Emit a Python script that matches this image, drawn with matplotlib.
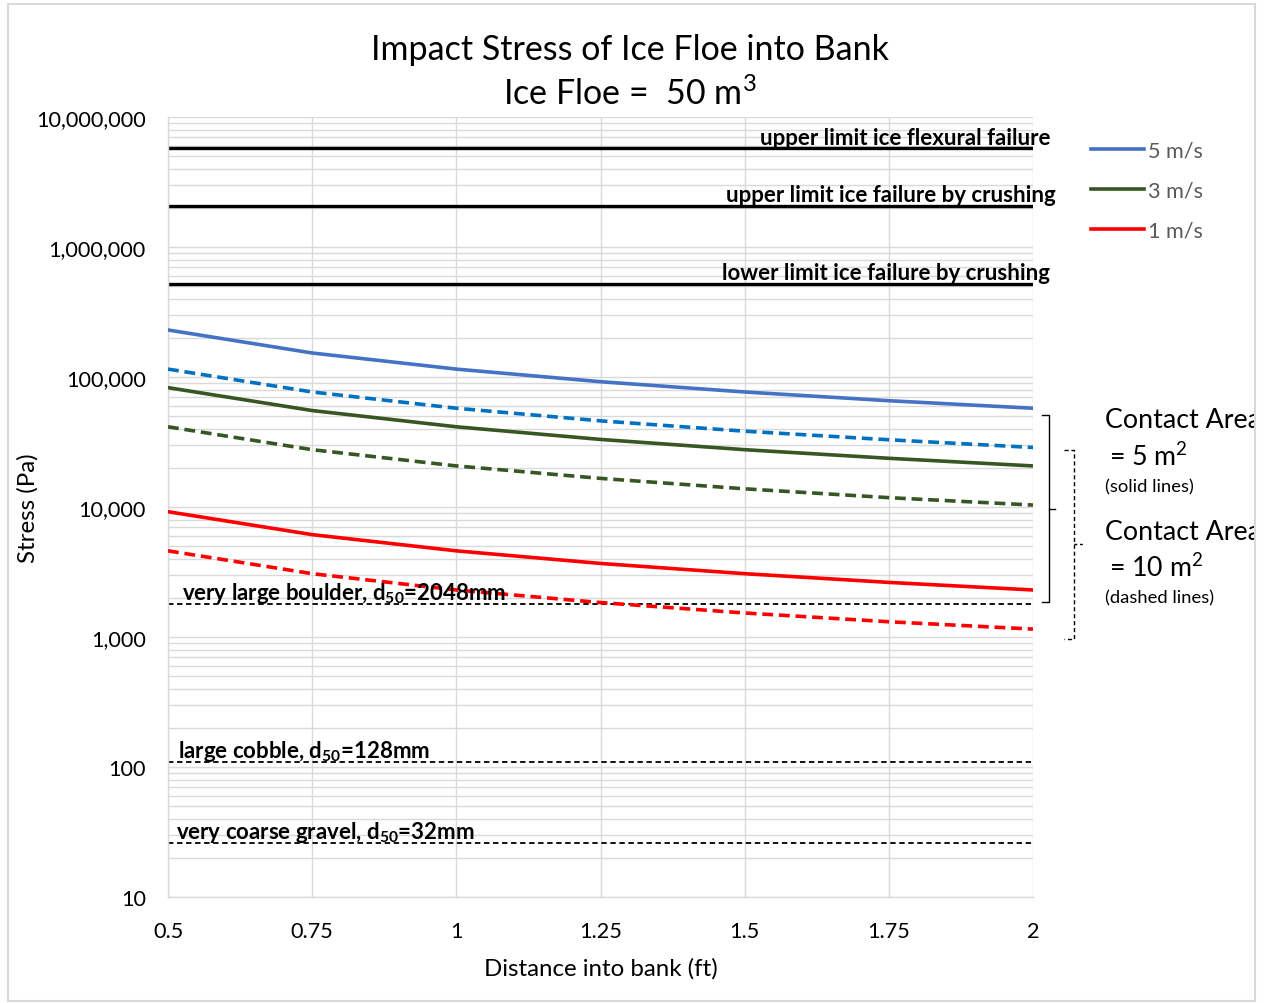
import matplotlib
matplotlib.use("Agg")
import matplotlib.pyplot as plt
from matplotlib.lines import Line2D
from matplotlib.patches import Rectangle
from matplotlib.ticker import FixedLocator, LogLocator, NullFormatter

plt.rcParams["font.family"] = ["Lato", "DejaVu Sans"]
plt.rcParams["mathtext.fontset"] = "custom"
plt.rcParams["mathtext.rm"] = "Lato"
plt.rcParams["mathtext.it"] = "Lato:italic"
plt.rcParams["mathtext.bf"] = "Lato:bold"

# Distance into bank (ft)
distance = [0.5, 0.75, 1.0, 1.25, 1.5, 1.75, 2.0]

# Impact stress (Pa), contact area 5 m2 (solid) and 10 m2 (dashed)
v5_a5 = [230000, 153000, 115000, 92000, 76700, 65700, 57500]
v5_a10 = [115000, 76700, 57500, 46000, 38300, 32900, 28700]
v3_a5 = [82800, 55200, 41400, 33100, 27600, 23700, 20700]
v3_a10 = [41400, 27600, 20700, 16600, 13800, 11800, 10350]
v1_a5 = [9200, 6130, 4600, 3680, 3070, 2630, 2300]
v1_a10 = [4600, 3070, 2300, 1840, 1530, 1310, 1150]

speed_labels = ["5 m/s", "3 m/s", "1 m/s"]
speed_colors = ["#4472C4", "#375623", "#FF0000"]
dashed_colors = ["#0070C0", "#375623", "#FF0000"]

# Ice failure thresholds (Pa)
ice_limits = [5.73e6, 2.08e6, 5.2e5]
ice_labels = ["upper limit ice flexural failure",
              "upper limit ice failure by crushing",
              "lower limit ice failure by crushing"]

# Bed material thresholds (Pa)
bed_limits = [1800, 110, 26]
bed_labels = [r"very large boulder, $\mathbf{d_{50}}$=2048mm",
              r"large cobble, $\mathbf{d_{50}}$=128mm",
              r"very coarse gravel, $\mathbf{d_{50}}$=32mm"]

x_ticks = [0.5, 0.75, 1.0, 1.25, 1.5, 1.75, 2.0]
x_tick_labels = ["0.5", "0.75", "1", "1.25", "1.5", "1.75", "2"]
y_ticks = [10, 100, 1000, 10000, 100000, 1000000, 10000000]
y_tick_labels = ["10", "100", "1,000", "10,000", "100,000", "1,000,000", "10,000,000"]

W, H = 1266, 1004
fig = plt.figure(figsize=(W / 100, H / 100), dpi=100)
ax = fig.add_axes([168 / W, 1 - 898 / H, (1033 - 168) / W, (898 - 118) / H])

grid_c = "#D9D9D9"
ax.set_yscale("log")
ax.set_xlim(0.5, 2.0)
ax.set_ylim(10, 1e7)
ax.xaxis.set_major_locator(FixedLocator(x_ticks))
ax.set_xticklabels(x_tick_labels)
ax.yaxis.set_major_locator(FixedLocator(y_ticks))
ax.set_yticklabels(y_tick_labels)
ax.yaxis.set_minor_locator(LogLocator(base=10, subs=range(2, 10)))
ax.yaxis.set_minor_formatter(NullFormatter())
ax.grid(True, which="major", axis="both", color=grid_c, lw=1.0)
ax.grid(True, which="minor", axis="y", color=grid_c, lw=1.0)
ax.set_axisbelow(True)
ax.tick_params(which="both", length=0, labelsize=15.6, colors="black")
ax.tick_params(axis="y", pad=16)
ax.tick_params(axis="x", pad=17)
for side in ["top", "right"]:
    ax.spines[side].set_visible(False)
for side in ["left", "bottom"]:
    ax.spines[side].set_color(grid_c)
    ax.spines[side].set_linewidth(1.0)

ax.set_ylabel("Stress (Pa)", fontsize=17.3)
ax.yaxis.set_label_coords((39 - 168) / 865, 0.5)
ax.set_xlabel("Distance into bank (ft)", fontsize=17.3, labelpad=12)

# Threshold lines
for val in ice_limits:
    ax.axhline(val, color="black", lw=2.4, zorder=2)
for val, lab, xr in zip(ice_limits, ice_labels, [2.03, 2.04, 2.03]):
    ax.text(xr, val * 1.085, lab, ha="right", va="baseline", fontsize=16,
            fontweight="bold", clip_on=False, zorder=5)
for val in bed_limits:
    ax.axhline(val, color="black", lw=1.3, ls=(0, (3, 2)), zorder=2)
for val, lab, xl in zip(bed_limits, bed_labels, [0.524, 0.517, 0.514]):
    ax.text(xl, val * 1.085, lab, ha="left", va="baseline", fontsize=16,
            fontweight="bold", zorder=5)

# Stress curves
solid = [v5_a5, v3_a5, v1_a5]
dashed = [v5_a10, v3_a10, v1_a10]
for ys, c in zip(solid, speed_colors):
    ax.plot(distance, ys, color=c, lw=2.6, solid_capstyle="round", zorder=3)
for ys, c in zip(dashed, dashed_colors):
    ax.plot(distance, ys, color=c, lw=2.6, ls=(0, (3, 1.6)), zorder=3)

# Legend (solid series)
handles = [Line2D([], [], color=c, lw=2.6) for c in speed_colors]
leg = fig.legend(handles, speed_labels, loc="upper left",
                 bbox_to_anchor=(1082 / W, 1 - 133 / H), frameon=False,
                 fontsize=15.6, handlelength=2.45, handletextpad=0.2,
                 labelspacing=0.93, borderaxespad=0)
for t in leg.get_texts():
    t.set_color("#595959")

# Contact-area brackets
def fx(px):
    return px / W

def fy(py):
    return 1 - py / H

fig.add_artist(Line2D([fx(1042), fx(1049), fx(1049), fx(1042)],
                      [fy(416), fy(416), fy(603), fy(603)],
                      color="black", lw=1.0))
fig.add_artist(Line2D([fx(1049), fx(1055)], [fy(510), fy(510)],
                      color="black", lw=1.0))
fig.add_artist(Line2D([fx(1064), fx(1074), fx(1074), fx(1064)],
                      [fy(451), fy(451), fy(640), fy(640)],
                      color="black", lw=1.0, ls=(0, (3, 2))))
fig.add_artist(Line2D([fx(1074), fx(1085)], [fy(545), fy(545)],
                      color="black", lw=1.0, ls=(0, (2, 2))))

clip_rect = Rectangle((0, 0), fx(1254), 1, transform=fig.transFigure,
                      facecolor="none", edgecolor="none")
fig.add_artist(clip_rect)
texts = [
    (1105, 421, "Contact Area", 19.3),
    (1109, 457, "= 5 m$^2$", 19.3),
    (1105, 487, "(solid lines)", 13.2),
    (1105, 533, "Contact Area", 19.3),
    (1109, 568, "= 10 m$^2$", 19.3),
    (1105, 598, "(dashed lines)", 13.2),
]
for px, py, s, fs in texts:
    t = fig.text(fx(px), fy(py), s, fontsize=fs, ha="left", va="center")
    t.set_clip_path(clip_rect)

# Titles
fig.text(fx(630), fy(50), "Impact Stress of Ice Floe into Bank", fontsize=24.5,
         ha="center", va="center")
fig.text(fx(630), fy(94), "Ice Floe =  50 m$^3$", fontsize=24.5,
         ha="center", va="center")

# Chart border
fig.add_artist(Rectangle((fx(8), fy(1002)), fx(1255) - fx(8), fy(5) - fy(1002),
                         transform=fig.transFigure, facecolor="none",
                         edgecolor="#D9D9D9", lw=1.5))

fig.savefig("out.png", dpi=100)
